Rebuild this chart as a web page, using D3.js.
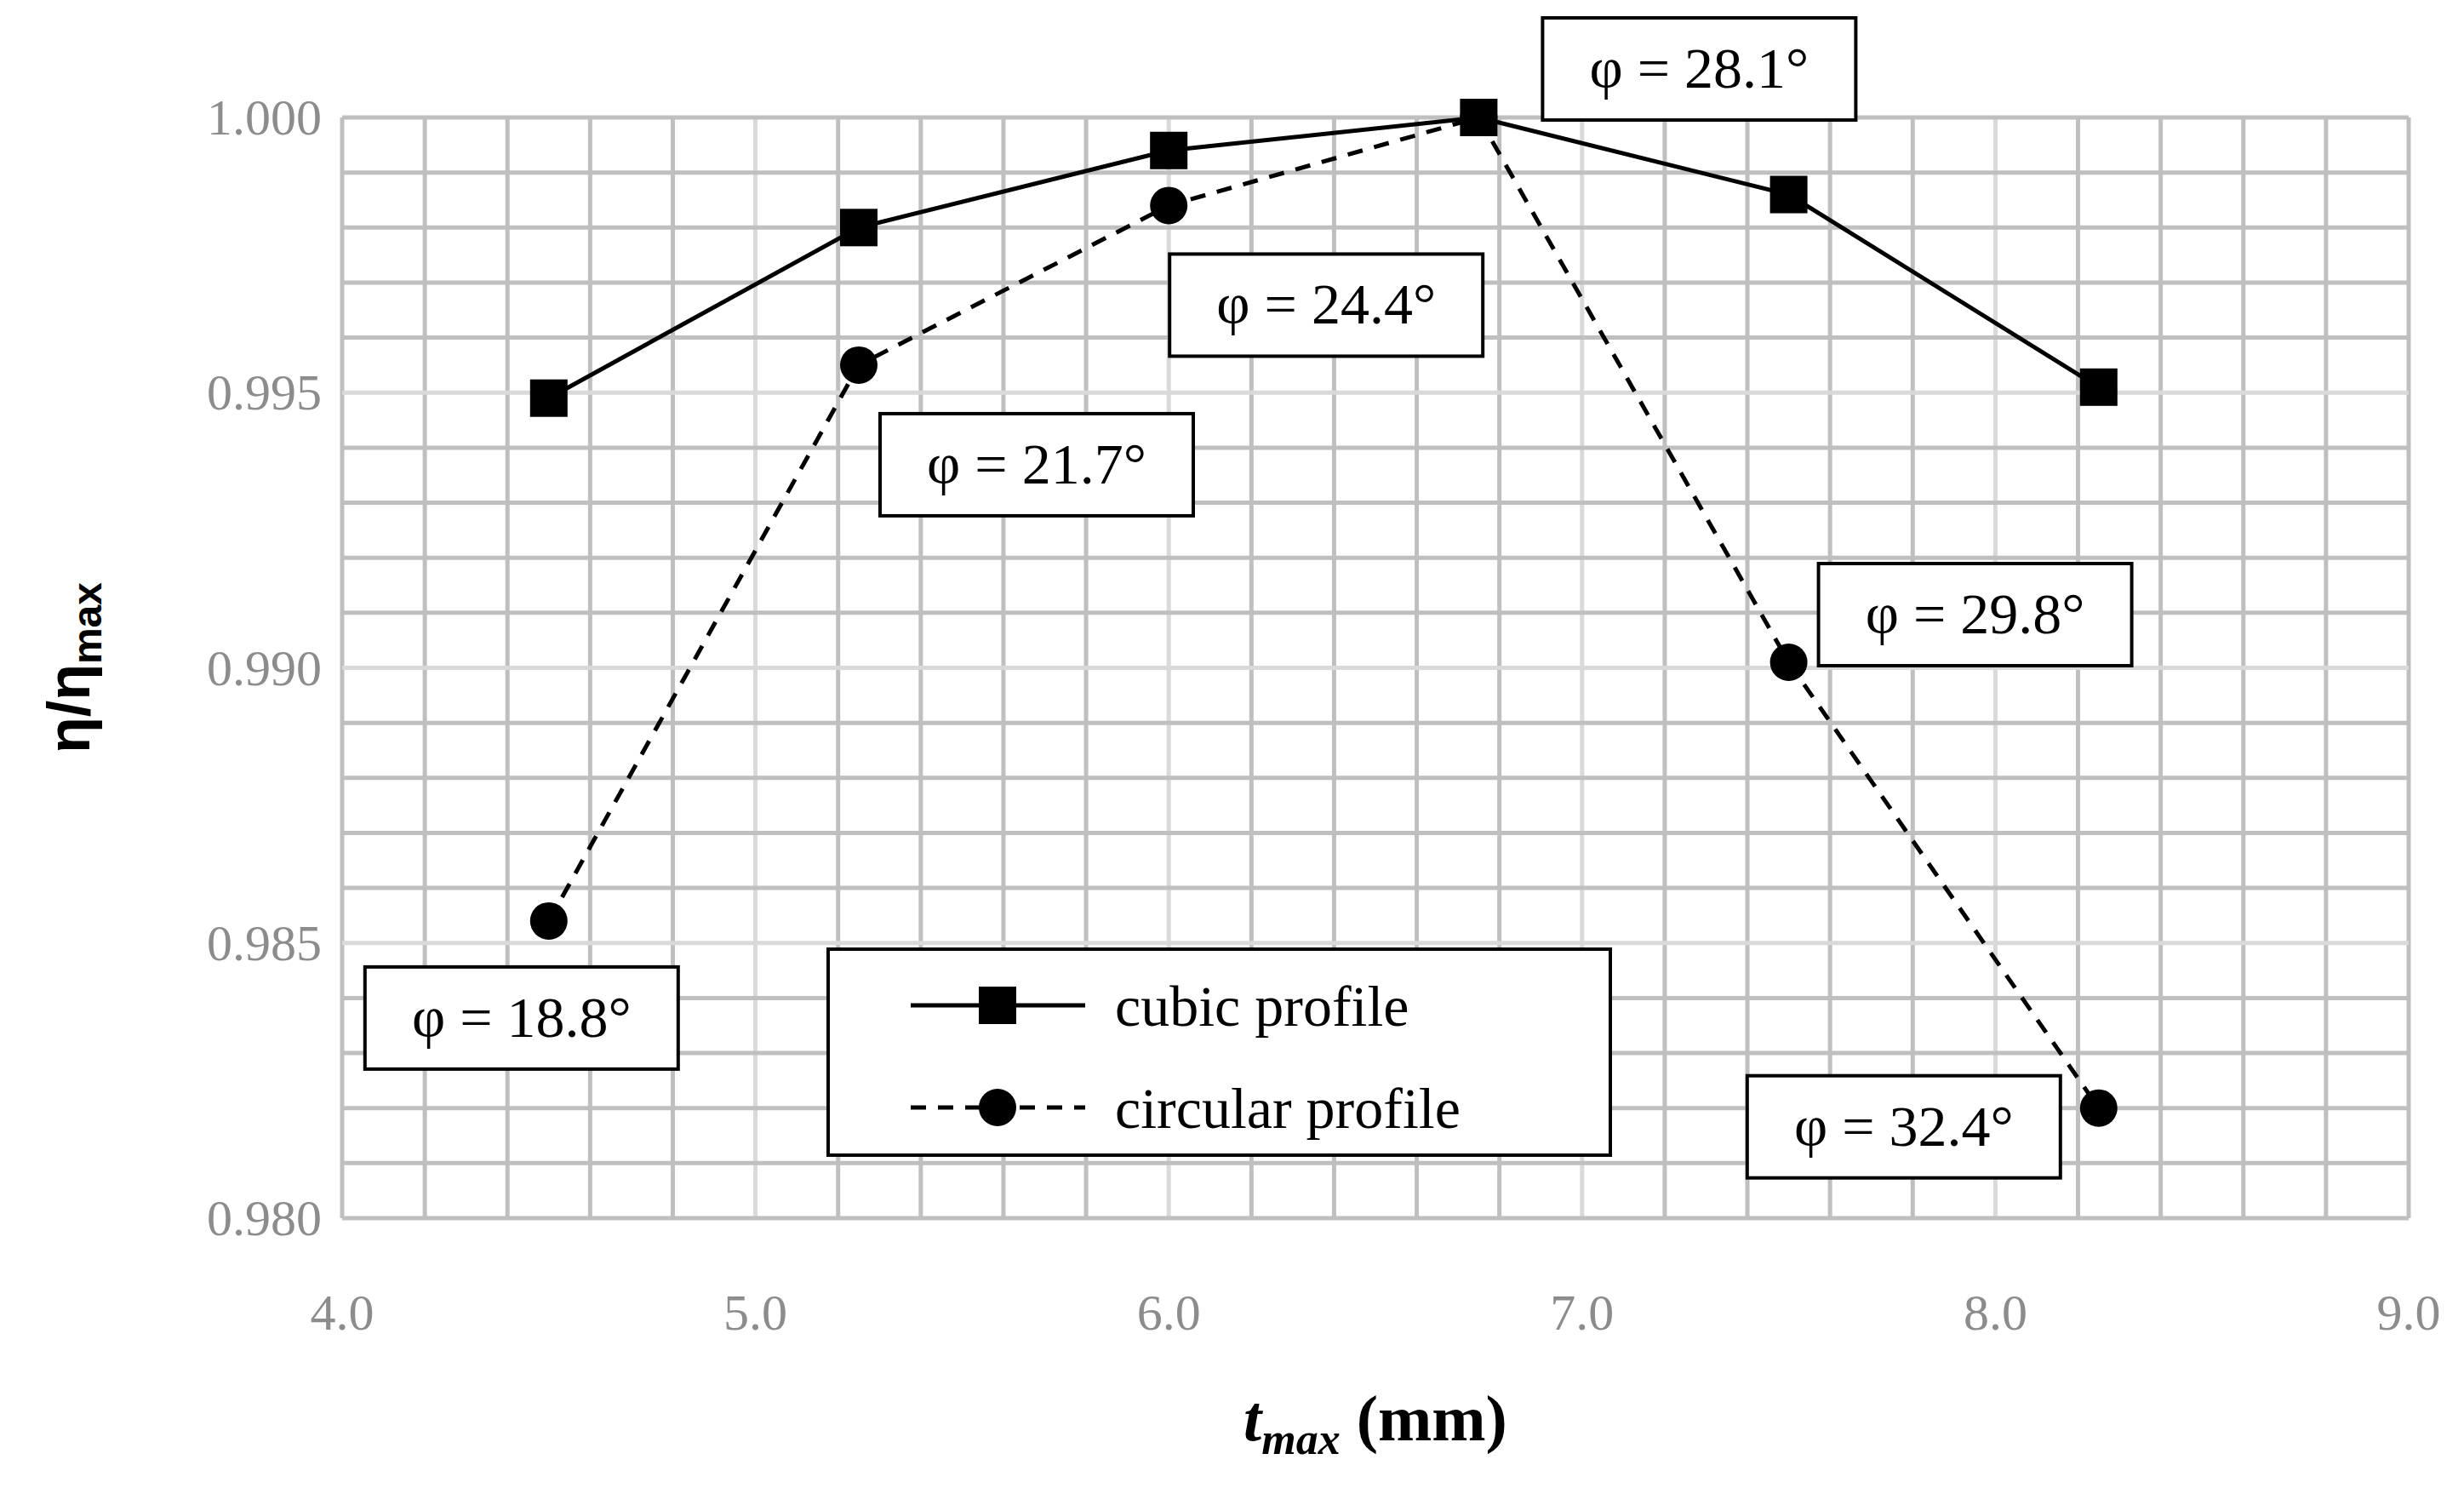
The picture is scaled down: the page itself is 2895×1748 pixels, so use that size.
<!DOCTYPE html>
<html><head><meta charset="utf-8">
<script src="https://cdn.jsdelivr.net/npm/d3@7"></script>
<style>body{margin:0;background:#fff}</style>
</head><body><div id="chart"></div>
<script>
var tmax = [4.5, 5.25, 6.0, 6.75, 7.5, 8.25];
var cubic = [0.9949, 0.9980, 0.9994, 1.0000, 0.9986, 0.9951];
var circular = [0.9854, 0.9955, 0.9984, 1.0000, 0.9901, 0.9820];
var angleLabels = ["φ = 18.8°", "φ = 21.7°", "φ = 24.4°", "φ = 28.1°", "φ = 29.8°", "φ = 32.4°"];
var xTicks = [4.0, 5.0, 6.0, 7.0, 8.0, 9.0];
var yTicks = [0.980, 0.985, 0.990, 0.995, 1.000];
// box centre offsets (px) from the point each label describes
var labelOffsets = [[-32, 114], [209, 117], [185, 117], [259, -57], [219, -56], [-229, 22]];

var W = 2895, H = 1748;
var m = {left: 402, right: 2830, top: 138, bottom: 1431};
var font = "'Liberation Serif', 'Times New Roman', serif";

var svg = d3.select("#chart").append("svg").attr("width", W).attr("height", H);
var x = d3.scaleLinear().domain([4, 9]).range([m.left, m.right]);
var y = d3.scaleLinear().domain([0.980, 1.000]).range([m.bottom, m.top]);

// grid
var g = svg.append("g");
d3.range(0, 26).forEach(function (i) {
  var v = 4 + i * 0.2;
  g.append("line").attr("x1", x(v)).attr("x2", x(v)).attr("y1", m.top).attr("y2", m.bottom)
    .attr("stroke", i % 5 == 0 && i > 0 && i < 25 ? "#d9d9d9" : "#bfbfbf").attr("stroke-width", 5);
});
d3.range(0, 21).forEach(function (i) {
  var v = 0.980 + i * 0.001;
  g.append("line").attr("x1", m.left).attr("x2", m.right).attr("y1", y(v)).attr("y2", y(v))
    .attr("stroke", i % 5 == 0 && i > 0 && i < 20 ? "#d9d9d9" : "#bfbfbf").attr("stroke-width", 5);
});

// tick labels
svg.selectAll(".xt").data(xTicks).enter().append("text")
  .attr("x", function (d) { return x(d); }).attr("y", 1562)
  .attr("text-anchor", "middle").attr("font-family", font).attr("font-size", 60).attr("fill", "#8c8c8c")
  .text(function (d) { return d.toFixed(1); });
svg.selectAll(".yt").data(yTicks).enter().append("text")
  .attr("x", 378).attr("y", function (d) { return y(d) + 20; })
  .attr("text-anchor", "end").attr("font-family", font).attr("font-size", 60).attr("fill", "#8c8c8c")
  .text(function (d) { return d.toFixed(3); });

// axis titles
var xt = svg.append("text").attr("x", 1616).attr("y", 1692).attr("text-anchor", "middle")
  .attr("font-family", font).attr("font-size", 76).attr("font-weight", "bold");
xt.append("tspan").attr("font-style", "italic").text("t");
xt.append("tspan").attr("font-style", "italic").attr("font-size", 52).attr("dy", 16).text("max");
xt.append("tspan").attr("dy", -16).text(" (mm)");
var yt = svg.append("text").attr("transform", "translate(105," + ((m.top + m.bottom) / 2) + ") rotate(-90)")
  .attr("text-anchor", "middle").attr("font-family", "'Liberation Sans', Arial, sans-serif")
  .attr("font-size", 70).attr("font-weight", "bold");
yt.append("tspan").text("η/η");
yt.append("tspan").attr("font-size", 48).attr("dy", 14).text("max");

// lines
var line = function (vals) {
  return d3.line().x(function (d, i) { return x(tmax[i]); }).y(function (d) { return y(d); })(vals);
};
svg.append("path").attr("d", line(circular)).attr("fill", "none").attr("stroke", "#000")
  .attr("stroke-width", 5).attr("stroke-dasharray", "18,14");
svg.append("path").attr("d", line(cubic)).attr("fill", "none").attr("stroke", "#000").attr("stroke-width", 5);
svg.selectAll(".sq").data(cubic).enter().append("rect")
  .attr("x", function (d, i) { return x(tmax[i]) - 22; }).attr("y", function (d) { return y(d) - 22; })
  .attr("width", 44).attr("height", 44).attr("fill", "#000");
svg.selectAll(".ci").data(circular).enter().append("circle")
  .attr("cx", function (d, i) { return x(tmax[i]); }).attr("cy", function (d) { return y(d); })
  .attr("r", 22).attr("fill", "#000");

// angle labels
angleLabels.forEach(function (t, i) {
  var cx = x(tmax[i]) + labelOffsets[i][0], cy = y(circular[i]) + labelOffsets[i][1];
  svg.append("rect").attr("x", cx - 184).attr("y", cy - 60).attr("width", 368).attr("height", 120)
    .attr("fill", "#fff").attr("stroke", "#000").attr("stroke-width", 4);
  svg.append("text").attr("x", cx).attr("y", cy + 22).attr("text-anchor", "middle")
    .attr("font-family", font).attr("font-size", 68).text(t);
});

// legend
var lg = svg.append("g");
lg.append("rect").attr("x", 973).attr("y", 1115).attr("width", 919).attr("height", 242)
  .attr("fill", "#fff").attr("stroke", "#000").attr("stroke-width", 4);
lg.append("line").attr("x1", 1070).attr("x2", 1275).attr("y1", 1181).attr("y2", 1181).attr("stroke", "#000").attr("stroke-width", 5);
lg.append("rect").attr("x", 1150).attr("y", 1159).attr("width", 44).attr("height", 44);
lg.append("line").attr("x1", 1070).attr("x2", 1275).attr("y1", 1301).attr("y2", 1301).attr("stroke", "#000")
  .attr("stroke-width", 5).attr("stroke-dasharray", "18,14");
lg.append("circle").attr("cx", 1172).attr("cy", 1301).attr("r", 22);
lg.append("text").attr("x", 1310).attr("y", 1205).attr("font-family", font).attr("font-size", 68).text("cubic profile");
lg.append("text").attr("x", 1310).attr("y", 1325).attr("font-family", font).attr("font-size", 68).text("circular profile");
</script></body></html>
